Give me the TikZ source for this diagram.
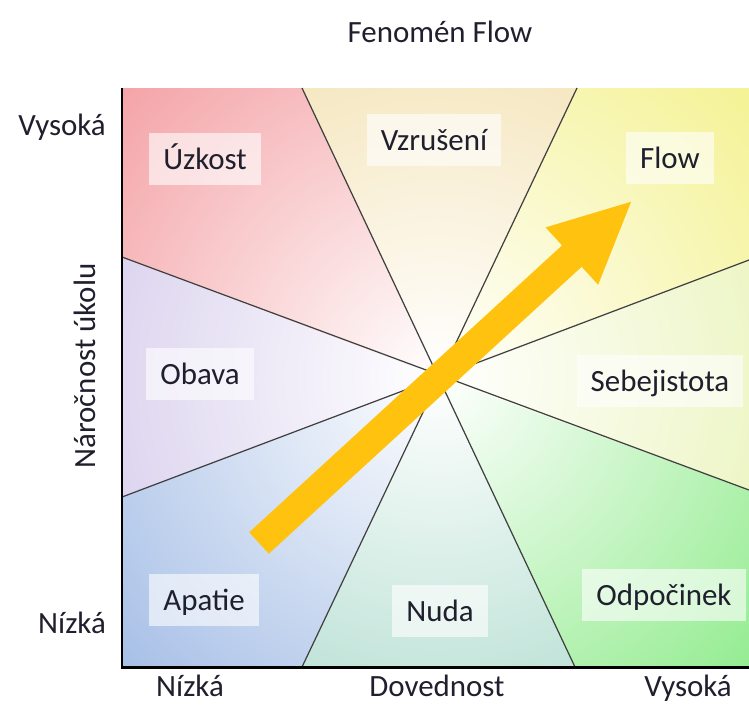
\documentclass[tikz,border=0pt]{standalone}
\usepackage{fontspec}
\setmainfont{Carlito}
\usetikzlibrary{arrows.meta}
\definecolor{uzkostcol}{HTML}{F39A9E}
\definecolor{vzrusenicol}{HTML}{F1DCA4}
\definecolor{flowcol}{HTML}{F3F188}
\definecolor{sebecol}{HTML}{E6F2AE}
\definecolor{odpocol}{HTML}{88EA84}
\definecolor{nudacol}{HTML}{A2D6C6}
\definecolor{apatiecol}{HTML}{9EB9E4}
\definecolor{obavacol}{HTML}{CFC4E9}
\definecolor{arrowcol}{HTML}{FFC20E}
\definecolor{txtcol}{HTML}{1F1F2E}
\newcommand\sector[2]{%
  \begin{scope}
    \clip #2 -- cycle;
    \shade[inner color=white,outer color=#1] (C) circle (9.5cm);
  \end{scope}}
\tikzset{
  zone/.style={fill=white,fill opacity=.6,text opacity=1,inner xsep=0.28cm,
    text height=0.4cm,text depth=0pt,minimum height=1.04cm},
  divider/.style={draw=black!75,line width=0.7pt},
}
\begin{document}
\begin{tikzpicture}[x=0.02cm,y=-0.02cm,font=\fontsize{17.6}{21}\selectfont,text=txtcol]
\useasboundingbox (0,0) rectangle (749,704);
% corner and edge points
\coordinate (C) at (438,377);
\coordinate (TL) at (122,88);
\coordinate (T1) at (302,88);
\coordinate (T2) at (577,88);
\coordinate (TR) at (749,88);
\coordinate (R1) at (749,260);
\coordinate (R2) at (749,490);
\coordinate (BR) at (749,667);
\coordinate (B2) at (575,667);
\coordinate (B1) at (302,667);
\coordinate (BL) at (122,667);
\coordinate (L2) at (122,497);
\coordinate (L1) at (122,257);
% shaded zones
\sector{uzkostcol}{(C)--(L1)--(TL)--(T1)}
\sector{vzrusenicol}{(C)--(T1)--(T2)}
\sector{flowcol}{(C)--(T2)--(TR)--(R1)}
\sector{sebecol}{(C)--(R1)--(R2)}
\sector{odpocol}{(C)--(R2)--(BR)--(B2)}
\sector{nudacol}{(C)--(B2)--(B1)}
\sector{apatiecol}{(C)--(B1)--(BL)--(L2)}
\sector{obavacol}{(C)--(L2)--(L1)}
% dividing lines
\draw[divider](T1)--(B2);
\draw[divider](T2)--(B1);
\draw[divider](L1)--(R2);
\draw[divider](L2)--(R1);
% axes
\draw[line width=1.7pt](TL)--(BL)--(BR);
% arrow
\coordinate (tail) at (259,543);
\coordinate (tip) at (633,200);
\draw[arrowcol,line width=0.58cm,-{Triangle[length=1.66cm,width=1.42cm]}](tail)--(tip);
% zone labels
\node[zone] (uzkost) at (205,159) {Úzkost};
\node[zone] (vzruseni) at (434,140) {Vzrušení};
\node[zone] (flow) at (670,158) {Flow};
\node[zone] (obava) at (200,374) {Obava};
\node[zone] (sebe) at (660,381) {Sebejistota};
\node[zone] (apatie) at (204,600) {Apatie};
\node[zone] (nuda) at (440,611) {Nuda};
\node[zone] (odpo) at (664,595) {Odpočinek};
% titles
\node[anchor=base] (title) at (440,42) {Fenomén Flow};
\node[anchor=base] (yhigh) at (62,135) {Vysoká};
\node[anchor=base] (ylow) at (72,633) {Nízká};
\node[rotate=90] (ylabel) at (85,366) {Náročnost úkolu};
\node[anchor=base] (xlow) at (190,696) {Nízká};
\node[anchor=base] (xlabel) at (437,696) {Dovednost};
\node[anchor=base] (xhigh) at (688,696) {Vysoká};
\end{tikzpicture}
\end{document}
